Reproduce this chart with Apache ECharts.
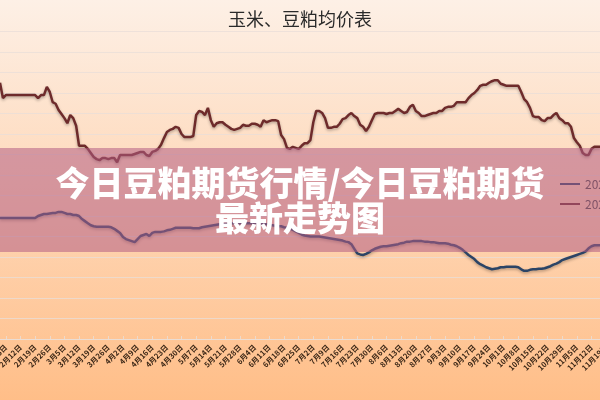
<!DOCTYPE html>
<html>
<head>
<meta charset="utf-8">
<script src="https://cdn.jsdelivr.net/npm/echarts@6/dist/echarts.min.js"></script>
<style>
html,body{margin:0;padding:0;}
#chart{width:600px;height:400px;}
</style>
</head>
<body>
<div id="chart"></div>
<script>
const seriesNames = ['2021年玉米均价', '2021年豆粕均价'];
const chartTitle = '玉米、豆粕均价表';
const bannerLines = ['今日豆粕期货行情/今日豆粕期货', '最新走势图'];

// Trading-day categories (weekdays), starting Thu 2月1日
const monthLen = {2:28,3:31,4:30,5:31,6:30,7:31,8:31,9:30,10:31,11:30,12:31};
const categories = [];
(function(){
  let m = 2, d = 1, wd = 4;
  while (categories.length < 210) {
    if (wd >= 1 && wd <= 5) categories.push(m + '月' + d + '日');
    d++; wd = (wd + 1) % 7;
    if (d > monthLen[m]) { m++; d = 1; }
  }
})();

// 玉米 (blue)
const cornValues = [
  2180,2180,2180,2180,2180,2180,2180,2180,2180,2180,
  2180,2180,2180,2200,2210,2220,2220,2225,2230,2230,
  2240,2240,2230,2220,2220,2210,2210,2200,2170,2150,
  2130,2110,2100,2095,2095,2095,2095,2095,2090,2075,
  2055,2035,1995,1975,1965,1955,1945,1975,2005,2015,
  2025,2005,2035,2045,2045,2045,2050,2060,2065,2075,
  2085,2085,2085,2085,2085,2085,2080,2080,2080,2090,
  2095,2100,2105,2110,2115,2120,2120,2125,2125,2130,
  2130,2130,2130,2130,2130,2130,2130,2130,2130,2130,
  2120,2120,2110,2110,2105,2100,2100,2090,2085,2075,
  2065,2050,2035,2020,2010,2005,2000,2000,2000,2000,
  1995,1990,1985,1980,1975,1970,1965,1960,1950,1945,
  1925,1880,1835,1825,1820,1830,1845,1865,1880,1890,
  1900,1905,1905,1910,1915,1920,1925,1935,1940,1950,
  1950,1955,1955,1955,1955,1950,1950,1945,1945,1940,
  1935,1935,1935,1930,1920,1915,1905,1890,1870,1845,
  1820,1800,1780,1750,1730,1715,1700,1690,1680,1685,
  1690,1700,1700,1705,1705,1705,1705,1700,1680,1665,
  1665,1675,1680,1680,1685,1685,1690,1700,1710,1725,
  1735,1750,1770,1780,1790,1800,1810,1820,1830,1840,
  1855,1885,1905,1915,1915,1915
];

// 豆粕 (dark red)
const mealValues = [
  3500,3350,3380,3380,3380,3380,3380,3380,3380,3380,
  3380,3380,3380,3350,3380,3380,3460,3410,3310,3295,
  3235,3195,3155,3105,3185,3155,3080,2885,2885,2885,
  2855,2815,2775,2755,2745,2765,2765,2755,2765,2765,
  2725,2795,2795,2795,2795,2795,2805,2815,2825,2825,
  2795,2785,2825,2835,2855,2895,2960,3020,3040,3050,
  3070,3060,3000,2970,2970,2970,2980,3185,3225,3215,
  3185,3255,3135,3070,3105,3115,3115,3090,3070,3050,
  3040,3050,3060,3090,3080,3080,3100,3100,3090,3070,
  3135,3115,3125,3135,3135,3125,2990,2950,2865,2855,
  2875,2865,2855,2885,2910,2910,2940,3115,3225,3225,
  3205,3155,3060,3060,3070,3070,3100,3145,3155,3185,
  3205,3175,3155,3090,3070,3030,3070,3135,3195,3205,
  3205,3205,3195,3205,3205,3225,3245,3225,3205,3215,
  3265,3285,3225,3205,3175,3175,3185,3195,3205,3205,
  3225,3225,3255,3265,3265,3275,3310,3310,3310,3310,
  3350,3380,3400,3430,3470,3480,3480,3500,3515,3525,
  3525,3490,3480,3470,3470,3470,3470,3470,3410,3340,
  3310,3255,3175,3165,3165,3135,3125,3155,3155,3185,
  3205,3155,3135,3105,3105,3070,2960,2920,2885,2815,
  2795,2795,2855,2875,2875,2875
];

const FONT = '"Noto Sans CJK SC", "Noto Sans", sans-serif';
const isWeekTick = function (index) { return index % 5 === 2; };

const chart = echarts.init(document.getElementById('chart'), null, {renderer: 'canvas'});
chart.setOption({
  animation: false,
  backgroundColor: {
    type: 'linear', x: 0, y: 0, x2: 0, y2: 1,
    colorStops: [
      {offset: 0, color: '#fdf0e6'},
      {offset: 0.5, color: '#fed7b7'},
      {offset: 1, color: '#ffbe88'}
    ]
  },
  title: {
    text: chartTitle,
    left: 'center',
    top: 5,
    textStyle: {fontFamily: FONT, fontSize: 18, fontWeight: 'normal', color: '#2a2a2a'}
  },
  legend: {
    orient: 'vertical',
    left: 555,
    top: 173,
    icon: 'rect',
    itemWidth: 20,
    itemHeight: 2,
    itemGap: 8,
    data: seriesNames,
    textStyle: {fontFamily: FONT, fontSize: 12, color: '#444'}
  },
  grid: {left: 0, right: -12, top: 31.5, bottom: 61, containLabel: false, outerBoundsMode: 'none'},
  xAxis: {
    type: 'category',
    data: categories,
    boundaryGap: false,
    axisLine: {show: true, lineStyle: {color: 'rgba(232,222,216,0.8)', width: 1}},
    axisTick: {show: true, interval: isWeekTick, length: 3, inside: true, lineStyle: {color: 'rgba(232,222,216,0.8)'}},
    axisLabel: {
      interval: isWeekTick,
      rotate: 45,
      margin: 7,
      fontSize: 7.5,
      fontWeight: 'bold',
      fontFamily: FONT,
      color: '#3a2616',
      hideOverlap: false
    },
    splitLine: {show: false}
  },
  yAxis: {
    type: 'value',
    min: 1000,
    max: 4000,
    interval: 200,
    axisLine: {show: false},
    axisTick: {show: false},
    axisLabel: {show: false},
    splitLine: {lineStyle: {color: 'rgba(232,222,216,0.75)', width: 1}}
  },
  series: [
    {
      name: seriesNames[0], type: 'line', data: cornValues, symbol: 'none',
      lineStyle: {color: '#2b4466', width: 2.5, shadowBlur: 3, shadowColor: 'rgba(0,0,0,0.3)', shadowOffsetY: 1.5},
      itemStyle: {color: '#2b4466'}
    },
    {
      name: seriesNames[1], type: 'line', data: mealValues, symbol: 'none',
      lineStyle: {color: '#6e2b2b', width: 2.5, shadowBlur: 3, shadowColor: 'rgba(0,0,0,0.3)', shadowOffsetY: 1.5},
      itemStyle: {color: '#6e2b2b'}
    }
  ],
  graphic: [
    {
      type: 'rect', z: 100,
      shape: {x: 0, y: 148, width: 600, height: 104},
      style: {fill: 'rgba(178,93,132,0.55)'}
    },
    {
      type: 'text', z: 101, x: 300, y: 183,
      style: {text: bannerLines[0], fill: '#ffffff', font: '900 34px ' + FONT,
              textAlign: 'center', textVerticalAlign: 'middle', align: 'center', verticalAlign: 'middle'}
    },
    {
      type: 'text', z: 101, x: 300, y: 218,
      style: {text: bannerLines[1], fill: '#ffffff', font: '900 34px ' + FONT,
              textAlign: 'center', textVerticalAlign: 'middle', align: 'center', verticalAlign: 'middle'}
    }
  ]
});
</script>
</body>
</html>
